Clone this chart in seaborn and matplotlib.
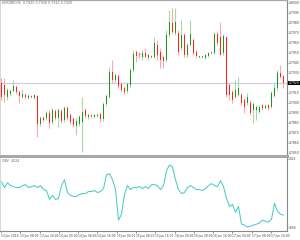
import numpy as np
import pandas as pd
import matplotlib
matplotlib.use("Agg")
import matplotlib.pyplot as plt
import matplotlib.transforms as mtrans
import seaborn as sns

# ---------------- data ----------------
open_ = [0.7920,0.7918,0.7906,0.7909,0.7912,0.7916,0.7911,0.7906,0.7908,0.7905,
         0.7907,0.7905,0.7907,0.7879,0.7885,0.7885,0.7890,0.7881,0.7892,0.7885,
         0.7892,0.7883,0.7895,0.7888,0.7884,0.7877,0.7879,0.7881,0.7893,0.7886,
         0.7888,0.7886,0.7887,0.7889,0.7884,0.7899,0.7906,0.7931,0.7923,0.7927,
         0.7919,0.7915,0.7912,0.7918,0.7933,0.7951,0.7949,0.7946,0.7950,0.7945,
         0.7947,0.7946,0.7958,0.7951,0.7946,0.7943,0.7968,0.7980,0.7970,0.7970,
         0.7955,0.7968,0.7948,0.7958,0.7963,0.7951,0.7946,0.7946,0.7945,0.7947,
         0.7950,0.7950,0.7969,0.7966,0.7950,0.7966,0.7918,0.7911,0.7906,0.7908,
         0.7908,0.7903,0.7900,0.7900,0.7893,0.7893,0.7891,0.7898,0.7895,0.7898,
         0.7896,0.7907,0.7915,0.7930,0.7927]
close = [0.7906,0.7908,0.7913,0.7912,0.7917,0.7911,0.7907,0.7909,0.7906,0.7907,
         0.7906,0.7908,0.7879,0.7885,0.7883,0.7890,0.7880,0.7893,0.7885,0.7893,
         0.7882,0.7895,0.7885,0.7881,0.7878,0.7882,0.7886,0.7891,0.7887,0.7888,
         0.7887,0.7888,0.7888,0.7884,0.7899,0.7907,0.7931,0.7923,0.7928,0.7917,
         0.7913,0.7911,0.7919,0.7933,0.7949,0.7947,0.7948,0.7950,0.7946,0.7948,
         0.7946,0.7960,0.7948,0.7943,0.7942,0.7968,0.7981,0.7971,0.7981,0.7951,
         0.7968,0.7948,0.7958,0.7969,0.7950,0.7947,0.7946,0.7946,0.7948,0.7950,
         0.7950,0.7969,0.7960,0.7948,0.7967,0.7908,0.7908,0.7903,0.7913,0.7915,
         0.7900,0.7896,0.7906,0.7890,0.7899,0.7896,0.7896,0.7895,0.7897,0.7895,
         0.7910,0.7915,0.7930,0.7926,0.7920]
high = [0.7925,0.7925,0.7915,0.7914,0.7923,0.7918,0.7913,0.7914,0.7910,0.7909,
        0.7908,0.7909,0.7908,0.7887,0.7887,0.7892,0.7893,0.7895,0.7894,0.7895,
        0.7894,0.7897,0.7897,0.7890,0.7886,0.7885,0.7888,0.7906,0.7895,0.7890,
        0.7889,0.7889,0.7890,0.7891,0.7901,0.7909,0.7936,0.7943,0.7930,0.7929,
        0.7921,0.7917,0.7921,0.7935,0.7953,0.7953,0.7951,0.7953,0.7955,0.7950,
        0.7948,0.7966,0.7963,0.7955,0.7948,0.7973,0.7993,0.7995,0.7995,0.7973,
        0.7983,0.7970,0.7960,0.7983,0.7965,0.7953,0.7947,0.7947,0.7949,0.7951,
        0.7951,0.7971,0.7972,0.7981,0.7969,0.7967,0.7920,0.7913,0.7923,0.7926,
        0.7910,0.7905,0.7910,0.7903,0.7901,0.7898,0.7898,0.7899,0.7899,0.7899,
        0.7912,0.7920,0.7933,0.7938,0.7928]
low = [0.7903,0.7901,0.7903,0.7907,0.7911,0.7909,0.7900,0.7905,0.7904,0.7904,
       0.7905,0.7904,0.7866,0.7877,0.7881,0.7883,0.7875,0.7879,0.7883,0.7876,
       0.7880,0.7881,0.7883,0.7879,0.7876,0.7868,0.7877,0.7851,0.7885,0.7884,
       0.7885,0.7885,0.7886,0.7881,0.7882,0.7897,0.7905,0.7920,0.7921,0.7915,
       0.7911,0.7909,0.7910,0.7916,0.7931,0.7941,0.7945,0.7943,0.7945,0.7943,
       0.7945,0.7945,0.7943,0.7935,0.7935,0.7941,0.7966,0.7969,0.7968,0.7948,
       0.7953,0.7946,0.7946,0.7957,0.7948,0.7945,0.7945,0.7945,0.7944,0.7946,
       0.7949,0.7949,0.7958,0.7948,0.7948,0.7906,0.7903,0.7900,0.7905,0.7907,
       0.7898,0.7890,0.7898,0.7888,0.7880,0.7883,0.7890,0.7893,0.7894,0.7893,
       0.7895,0.7906,0.7913,0.7925,0.7915]
obv = [4500,4416,4486,4444,4430,4416,4416,4444,4458,4416,
       4430,4444,4416,4444,4388,4374,4248,4304,4248,4262,
       4444,4528,4346,4304,4290,4290,4318,4332,4332,4360,
       4360,4374,4346,4360,4402,4598,4612,4528,4388,3954,
       4038,4318,4444,4388,4416,4416,4430,4402,4430,4402,
       4458,4458,4444,4388,4444,4654,4738,4710,4528,4388,
       4332,4346,4416,4444,4416,4388,4388,4374,4402,4444,
       4472,4444,4430,4514,4430,4262,4150,4178,4066,4150,
       3898,3884,3856,3870,3884,3898,3912,3954,3940,3926,
       3968,4192,4080,4038,4024]
date_labels = ["13 Jun 2016", "13 Jun 08:00", "13 Jun 16:00", "14 Jun 00:00",
               "14 Jun 08:00", "14 Jun 16:00", "15 Jun 00:00", "15 Jun 08:00",
               "15 Jun 16:00", "16 Jun 00:00", "16 Jun 08:00", "16 Jun 16:00",
               "17 Jun 00:00", "17 Jun 08:00", "17 Jun 16:00"]
price_ticks = [0.7850, 0.7860, 0.7870, 0.7880, 0.7890, 0.7900, 0.7910, 0.7920,
               0.7930, 0.7940, 0.7950, 0.7960, 0.7970, 0.7980, 0.7990, 0.8000]
obv_ticks = [3856, 4822]
symbol_text = "EURGBP,H1  0.7925 0.7928 0.7915 0.7920"

# ---------------- figure ----------------
sns.set_style("white")
plt.rcParams['font.family'] = ['DejaVu Sans']

df = pd.DataFrame({"open": open_, "close": close, "high": high, "low": low, "obv": obv})
df["idx"] = np.arange(len(df))
up = df["close"] >= df["open"]

fig = plt.figure(figsize=(3.0, 2.4), dpi=100)
ax = fig.add_axes([0.0, 84/240, 287/300, 156/240])
ax2 = fig.add_axes([0.0, 9/240, 287/300, 73/240])

wick_cols = np.where(up, "#a6d9a6", "#ffa8a8")
body_cols = np.where(up, "#1e961e", "#ff2020")
ax.vlines(df["idx"], df["low"], df["high"], colors=wick_cols, linewidth=0.8, zorder=2)
bottoms = np.minimum(df["open"], df["close"])
heights = np.maximum(np.abs(df["close"] - df["open"]), 0.00008)
ax.bar(df["idx"], heights, bottom=bottoms, width=0.62, color=body_cols, linewidth=0, zorder=3)

last = close[-1]
ax.axhline(last, color="#cfcfe0", linewidth=0.9, zorder=1)

xmax = 95.17
ax.set_xlim(-0.5, xmax)
ax.set_ylim(0.7847, 0.8003)
ax.yaxis.tick_right()
ax.set_yticks(price_ticks)
# the current-price box covers the tick label at the same level
ax.set_yticklabels(["" if abs(v - last) < 1e-6 else f"{v:.4f}" for v in price_ticks])
ax.tick_params(axis="y", labelsize=2.2, length=1.0, width=0.4, pad=0.3,
               colors="#444444", right=True)
ax.set_xticks([])
for s, c, w in [("top", "#a8a8a8", 1.6), ("right", "#888888", 0.8),
                ("left", "#d0d0d0", 0.6), ("bottom", "#a8a8a8", 2.2)]:
    ax.spines[s].set_color(c)
    ax.spines[s].set_linewidth(w)

blend = mtrans.blended_transform_factory(ax.transAxes, ax.transData)
ax.text(1.006, last, f"{last:.4f}", transform=blend, fontsize=2.2, color="white",
        va="center", ha="left",
        bbox=dict(boxstyle="square,pad=0.12", fc="black", ec="black", lw=0))
ax.text(0.006, 0.992, symbol_text, transform=ax.transAxes, fontsize=2.3,
        color="#666666", va="top", ha="left")

sns.lineplot(data=df, x="idx", y="obv", ax=ax2, color="#4ccbc4", linewidth=0.75)
ax2.set_xlim(-0.5, xmax)
ax2.set_ylim(3800, 4836)
ax2.yaxis.tick_right()
ax2.set_yticks(obv_ticks)
ax2.set_yticklabels([str(v) for v in obv_ticks])
ax2.tick_params(axis="y", labelsize=2.2, length=1.0, width=0.4, pad=0.3,
                colors="#444444", right=True)
tick_pos = np.arange(len(date_labels)) * 6.43 - 0.17
ax2.set_xticks(tick_pos)
ax2.set_xticklabels(date_labels, ha="left")
ax2.tick_params(axis="x", labelsize=2.1, length=1.5, width=0.4, pad=0.8,
                colors="#444444", bottom=True)
ax2.set_xlabel("")
ax2.set_ylabel("")
for s, c, w in [("top", "#a8a8a8", 0.0), ("right", "#888888", 0.8),
                ("left", "#d0d0d0", 0.6), ("bottom", "#888888", 0.8)]:
    ax2.spines[s].set_color(c)
    ax2.spines[s].set_linewidth(w)
ax2.text(0.006, 0.985, f"OBV  {obv[-1]}", transform=ax2.transAxes, fontsize=2.3,
         color="#666666", va="top", ha="left")

fig.savefig("out.png", dpi=100)
